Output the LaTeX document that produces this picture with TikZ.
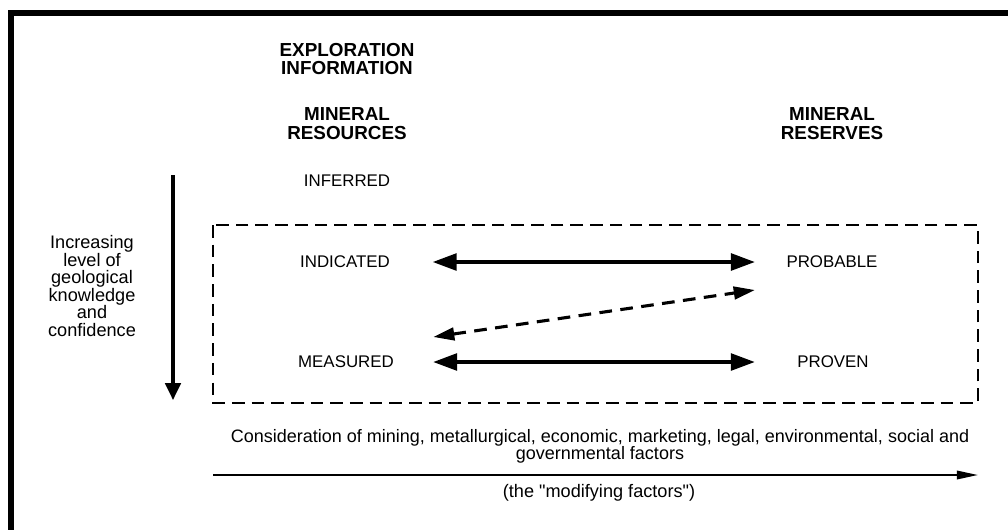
\documentclass[tikz,border=0pt]{standalone}
\usepackage{fontspec}
\newfontfamily\plainsans{Liberation Sans}
\usetikzlibrary{arrows.meta}

\tikzset{
    head/.style={font=\plainsans\bfseries\fontsize{13.4}{13.5}\selectfont, align=center},
    cat/.style={font=\plainsans\fontsize{12}{13.5}\selectfont},
    note/.style={font=\plainsans\fontsize{12.9}{12.5}\selectfont, align=center},
    twoway/.style={line width=2.2pt, {Triangle[length=17pt,width=12pt]}-{Triangle[length=17pt,width=12pt]}},
}

\begin{document}
\begin{tikzpicture}[x=0.025cm, y=-0.025cm]
        \useasboundingbox (0,0) rectangle (1008,529);
        \draw[line width=4.3pt] (11,540) -- (11,13) -- (1020,13);

        \node[head] (explore) at (347,59) {EXPLORATION\\INFORMATION};
        \node[head] (resources) at (347,124) {MINERAL\\RESOURCES};
        \node[head] (reserves) at (832,124) {MINERAL\\RESERVES};

        \node[cat] (inferred) at (347,181) {INFERRED};
        \node[cat] (indicated) at (345,262) {INDICATED};
        \node[cat] (probable) at (832,262) {PROBABLE};
        \node[cat] (measured) at (346,362) {MEASURED};
        \node[cat] (proven) at (833,362) {PROVEN};

        \node[note] (knowledge) at (92,286) {Increasing\\level of\\geological\\knowledge\\and\\confidence};
        \coordinate (deeper) at (173,175);
        \coordinate (deepest) at (173,400);
        \draw[line width=2.2pt, -{Triangle[length=12pt,width=11pt]}] (deeper) -- (deepest);

        \draw[line width=1.6pt, dash pattern=on 9pt off 5pt] (213,225) rectangle (978,403);

        \draw[twoway] ([xshift=27pt]indicated.east) -- ([xshift=-19pt]probable.west);
        \draw[twoway] ([xshift=24.5pt]measured.east) -- ([xshift=-26.8pt]proven.west);
        \draw[line width=2.2pt, dash pattern=on 9pt off 6pt, {Triangle[length=15pt,width=9pt]}-{Triangle[length=15pt,width=9pt]}]
            ([xshift=24.5pt,yshift=17.8pt]measured.east) -- ([xshift=-19pt,yshift=-19.9pt]probable.west);

        \node[note, font=\plainsans\fontsize{12.8}{12}\selectfont] (factors) at (600,446) {Consideration of mining, metallurgical, economic, marketing, legal, environmental, social and\\governmental factors};
        \coordinate (axisL) at (213,475);
        \coordinate (axisR) at (978,475);
        \draw[line width=1.4pt, -{Triangle[length=15pt,width=6pt]}] (axisL) -- (axisR);
        \node[note] (modifying) at (599,493) {(the "modifying factors")};
\end{tikzpicture}
\end{document}
